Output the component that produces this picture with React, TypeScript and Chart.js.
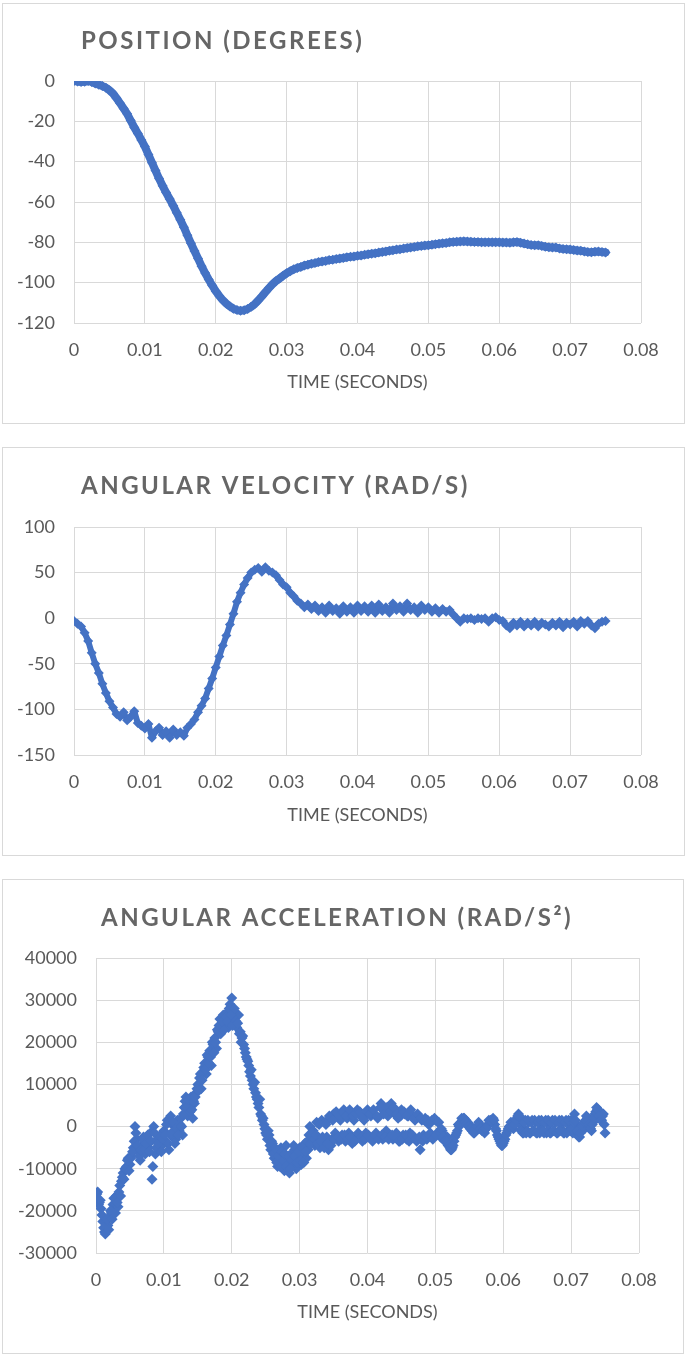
import React, { useEffect, useRef } from 'react';
import { Chart, registerables } from 'chart.js';

Chart.register(...registerables);

// ---------- DATA ----------
// Sampling step of each series (seconds).
const POSITION_STEP = 0.0005;
const POSITION_DEG = [
  0, -0.3, -0.5, -0.4, 0, -0.5, -1.2, -1.8, -2.5, -3.3,
  -4.6, -6.2, -8.5, -11.0, -13.6, -16.3, -19.6, -23.0, -26.0, -29.2,
  -32.5, -36.5, -40.5, -44.4, -48.4, -52.0, -55.3, -58.5, -61.8, -65.3,
  -68.8, -72.5, -76.5, -80.5, -84.3, -88.0, -91.8, -95.2, -98.4, -101.4,
  -104.2, -106.6, -108.7, -110.4, -111.8, -112.9, -113.6, -113.9, -113.7, -113.0,
  -112.0, -110.6, -108.8, -106.8, -104.7, -102.7, -100.8, -99.2, -97.9, -96.6,
  -95.3, -94.3, -93.4, -92.7, -92.2, -91.5, -91.1, -90.6, -90.3, -89.8,
  -89.5, -89.2, -88.8, -88.6, -88.3, -88.0, -87.8, -87.4, -87.2, -87.0,
  -86.7, -86.5, -86.2, -85.9, -85.6, -85.4, -85.1, -84.8, -84.5, -84.2,
  -83.9, -83.6, -83.4, -83.1, -82.8, -82.5, -82.3, -82.0, -81.8, -81.6,
  -81.4, -81.2, -80.9, -80.7, -80.5, -80.3, -80.0, -79.8, -79.7, -79.6,
  -79.5, -79.6, -79.7, -79.8, -79.8, -79.9, -79.9, -79.9, -80.0, -80.0,
  -80.0, -80.1, -80.1, -80.2, -80.0, -79.8, -80.2, -80.6, -81.0, -81.3,
  -81.5, -81.4, -81.8, -82.2, -82.4, -82.6, -82.6, -83.0, -83.3, -83.4,
  -83.6, -83.8, -84.1, -84.2, -84.5, -84.8, -84.9, -84.7, -84.6, -84.8,
  -85.0,
];

const VELOCITY_STEP = 0.0005;
const VELOCITY_RAD_S = [
  -3, -6, -9, -16, -25, -38, -50, -60, -72, -82,
  -91, -98, -105, -108, -103, -112, -108, -102, -115, -118,
  -121, -116, -131, -124, -120, -128, -124, -131, -122, -128,
  -125, -129, -120, -116, -111, -103, -96, -88, -77, -66,
  -54, -42, -30, -19, -7, 5, 18, 28, 37, 44,
  50, 53, 55, 51, 56, 52, 50, 47, 42, 37,
  34, 28, 24, 19, 16, 12, 15, 10, 14, 8,
  12, 6, 14, 8, 11, 5, 13, 7, 12, 6,
  14, 8, 13, 7, 14, 6, 15, 8, 12, 6,
  16, 9, 13, 7, 16, 9, 12, 6, 14, 9,
  12, 7, 11, 6, 10, 7, 9, 4, 0, -4,
  0, -1, 0, -2, 0, -1, 0, -4, 0, 1,
  -2, -3, -8, -11, -5, -8, -4, -9, -5, -8,
  -4, -9, -5, -7, -9, -5, -8, -4, -10, -5,
  -7, -4, -9, -3, -6, -3, -8, -11, -6, -4,
  -3,
];

// Acceleration samples at t = i * ACCEL_STEP
const ACCEL_STEP = 0.00025;
const ACCEL_RAD_S2 = [
  -17000, -15500, -18000, -19500, -22500, -25000, -24000, -23500, -21500, -20500, -18500, -19500, -16500, -19000, -14000, -13000, -11000, -10000, -9500, -7500,
  -9000, -7000, -5000, 0, -3000, -6000, -8000, -4500, -2500, -6500, -3500, -5000, -1500, -12500, 0, -6500, -3000, -5500, -2000, -4500,
  -1000, -3500, 1500, -5500, 2500, -2500, 0, -3000, 1500, -1000, 2000, -2000, 4500, 7000, 2500, 5000, 7000, 2000, 5500, 8000,
  10000, 11500, 9000, 13000, 15000, 12500, 16500, 18000, 14500, 19500, 21000, 18500, 22500, 25500, 23000, 26500, 24000, 27000, 23500, 29000,
  30500, 25000, 27000, 23500, 26500, 22500, 21000, 19500, 17500, 16000, 14500, 12000, 11000, 9000, 8000, 6500, 4500, 3000, 1500, 500,
  -1500, -3000, -2000, -5500, -4000, -7500, -6000, -9500, -8000, -5000, -7000, -10500, -4500, -8500, -11000, -6500, -9000, -5500, -10000, -7500,
  -5000, -9000, -6500, -4000, -7500, -5500, 0, -3000, -1000, -4500, 1000, -2500, -5000, 1500, -3500, 1000, -2500, -5500, 2000, -3000,
  3000, -1500, 2500, -3500, 1500, -2000, 4000, -3500, 2000, -1500, 3500, -4000, 1500, -2500, 4000, -2000, 2500, -3500, 1500, -1500,
  4000, -2500, 2500, -3500, 3000, -1500, 2000, -2500, 5500, -3000, 3500, -1000, 2500, -2500, 5500, -3000, 3000, -1500, 2000, -3500,
  4000, -2000, 3000, -3000, 2500, -1500, 3000, -2500, 1500, -3500, 2500, -5500, 1500, -2000, 2000, -3000, 500, -1500, 1500, -2500,
  1500, -1500, 1000, -2500, -1000, -2000, -3000, -2500, -4000, -5500, -5000, -3500, -2000, -1000, 0, 1000, 1500, 2000, 1500, 1000,
  500, 0, -500, -1500, -1000, 0, 500, 0, -500, -1500, -500, 500, 1000, 1500, 2000, 500, -1000, -2500, -3500, -4500,
  -4000, -3000, -1500, -500, 0, 500, -500, 1000, 2000, 3000, 1500, 0, -1500, 1500, -1000, 1000, -1500, 1500, -1000, 1000,
  -1500, 1500, -500, 1000, -1500, 1500, -1000, 500, -1500, 1500, -1000, 1000, -1500, 1500, -500, 1000, -1500, 1500, -1000, 500,
  1500, -1500, 3000, 500, -1500, -2500, -1000, 500, -500, 2500, 1500, 0, -1000, 1000, 3000, 4500, 4000, 3500, 1500, 3000,
  -1500,
];

// Acceleration samples in between, at t = ACCEL_MID_START + i * ACCEL_STEP
const ACCEL_MID_START = 0.000125;
const ACCEL_MID_RAD_S2 = [
  -16000, -18500, -17500, -21000, -24000, -25500, -22000, -24500, -20000, -22000, -17000, -20500, -18000, -15500, -16500, -12000, -12500, -10000, -8000, -10500,
  -7500, -6000, -3500, -1500, -4500, -7000, -5500, -3000, -5500, -4000, -2000, -6000, -3500, -9500, -1500, -5000, -4000, -2500, -6000, -3000,
  -2000, 500, -4000, 1000, -1500, 1000, -4000, -500, -2000, 500, 0, 3000, 6000, 4500, 6500, 3500, 4000, 6000, 7000, 9000,
  8500, 12500, 11000, 14000, 13500, 17000, 15000, 16500, 20000, 17500, 20000, 23000, 24000, 22000, 25000, 23000, 26000, 25000, 28000, 26500,
  24000, 28000, 25000, 24500, 22000, 20000, 21500, 18500, 16500, 15500, 13000, 13500, 10000, 10500, 7000, 5500, 6500, 2500, 2000, -500,
  -2000, -1000, -4500, -3500, -6500, -5000, -8500, -7000, -9500, -6000, -8000, -6500, -9500, -7000, -10000, -8000, -4500, -7000, -8500, -6000,
  -8000, -5000, -8500, -6000, -3500, -2000, -4000, -1500, -3000, -2000, -4000, 500, -3500, -2500, -5000, 500, -4000, 2500, -4500, 1500,
  -3000, 3500, -2500, 2500, -3000, 3500, -2000, 2500, -3000, 4000, -2500, 2500, -3500, 3000, -1500, 3500, -2500, 2000, -3000, 3500,
  -2000, 3000, -3000, 4000, -2000, 2500, -3000, 4500, -2000, 3000, -2500, 4500, -3000, 3500, -2000, 4500, -2500, 3000, -3500, 2500,
  -3000, 3500, -2000, 2500, -3500, 4000, -2000, 2000, -3000, 3000, -2500, 2000, -3500, 1500, -2500, 1500, -2000, 1000, -3000, 2000,
  -2000, 1000, -1500, -500, -2500, -3500, -3500, -4500, -5000, -5500, -4500, -2500, -1500, 500, 500, 2000, 2000, 1000, 500, 0,
  -500, -1000, -1500, -500, 0, 1000, -500, -1000, -1000, -500, 0, 1500, 1500, 1000, 1500, -500, -2000, -3000, -4000, -4500,
  -3500, -2000, -1000, 0, 1000, 0, 500, 1500, 2500, 2500, -1000, -1500, 1000, -1500, 1500, -1500, 1000, -1000, 1500, -1500,
  1000, -1500, 1500, -1000, 1000, -1500, 1500, -1500, 1000, -1000, 1500, -1500, 1000, -1000, 1500, -1500, 1000, -1500, 1500, -1000,
  -500, 1000, 1500, -1000, -2500, -1500, 0, 1000, 1500, 2000, 500, -500, 500, 2000, 3500, 4000, 2500, 1500, 2500, 500,
];

const X_TICK_LABELS = ['0', '0.01', '0.02', '0.03', '0.04', '0.05', '0.06', '0.07', '0.08'];
const POSITION_TICK_LABELS = ['-120', '-100', '-80', '-60', '-40', '-20', '0'];
const VELOCITY_TICK_LABELS = ['-150', '-100', '-50', '0', '50', '100'];
const ACCEL_TICK_LABELS = ['-30000', '-20000', '-10000', '0', '10000', '20000', '30000', '40000'];

const TITLES = ['POSITION (DEGREES)', 'ANGULAR VELOCITY (RAD/S)', 'ANGULAR ACCELERATION (RAD/S²)'];
const X_AXIS_TITLE = 'TIME (SECONDS)';

// ---------- STYLE ----------
const BLUE = '#4472C4';
const GRID = '#d9d9d9';
const TEXT = '#595959';
const TITLE_COLOR = '#666666';
const FONT = 'Lato';

const toPoints = (values: number[], step: number, start = 0) =>
  values.map((v, i) => ({ x: Number((start + i * step).toFixed(6)), y: v }));

const titlePlugin = {
  id: 'boxTitle',
  afterDraw(chart: any, _args: any, opts: any) {
    const ctx = chart.ctx as CanvasRenderingContext2D;
    ctx.save();
    ctx.font = `bold ${opts.size}px ${FONT}`;
    ctx.fillStyle = TITLE_COLOR;
    (ctx as any).letterSpacing = `${opts.spacing}px`;
    ctx.textAlign = 'left';
    ctx.textBaseline = 'alphabetic';
    ctx.fillText(opts.text, opts.x, opts.y);
    ctx.restore();
  },
};

type Spec = {
  box: { left: number; top: number; width: number; height: number };
  points: { x: number; y: number }[];
  yMin: number;
  yMax: number;
  yStep: number;
  yLabels: string[];
  yWidth: number;
  xHeight: number;
  padding: { left: number; right: number; top: number; bottom: number };
  radius: number;
  line: boolean;
  lineWidth: number;
  title: { text: string; x: number; y: number; spacing: number; size: number };
};

function ChartBox({ spec }: { spec: Spec }) {
  const ref = useRef<HTMLCanvasElement | null>(null);
  const cw = spec.box.width - 2;
  const ch = spec.box.height - 2;
  useEffect(() => {
    if (!ref.current) return;
    const tickFont = { family: FONT, size: 18 };
    const chart = new Chart(ref.current, {
      type: 'scatter',
      data: {
        datasets: [
          {
            data: spec.points,
            backgroundColor: BLUE,
            borderColor: BLUE,
            pointStyle: 'rectRot',
            pointRadius: spec.radius,
            pointBorderWidth: 0,
            showLine: spec.line,
            borderWidth: spec.lineWidth,
            borderJoinStyle: 'round',
            borderCapStyle: 'round',
          } as any,
        ],
      },
      options: {
        responsive: false,
        animation: false,
        devicePixelRatio: 1,
        layout: { padding: spec.padding },
        plugins: {
          legend: { display: false },
          tooltip: { enabled: false },
          title: { display: false },
          boxTitle: spec.title,
        } as any,
        scales: {
          x: {
            type: 'linear',
            min: 0,
            max: 0.08,
            ticks: {
              stepSize: 0.01,
              autoSkip: false,
              maxRotation: 0,
              color: TEXT,
              font: tickFont,
              padding: 16,
              callback: (_v: any, i: number) => X_TICK_LABELS[i],
            },
            grid: { color: GRID, lineWidth: 1, drawTicks: false },
            border: { display: false },
            title: { display: true, text: X_AXIS_TITLE, color: TEXT, font: tickFont, padding: 0 },
            afterFit: (s: any) => {
              s.height = spec.xHeight;
            },
          },
          y: {
            type: 'linear',
            min: spec.yMin,
            max: spec.yMax,
            ticks: {
              stepSize: spec.yStep,
              autoSkip: false,
              color: TEXT,
              font: tickFont,
              padding: 19,
              callback: (_v: any, i: number) => spec.yLabels[i],
            },
            grid: { color: GRID, lineWidth: 1, drawTicks: false },
            border: { display: false },
            afterFit: (s: any) => {
              s.width = spec.yWidth;
            },
          },
        } as any,
      },
      plugins: [titlePlugin],
    });
    return () => chart.destroy();
  }, [spec]);

  return (
    <div
      style={{
        position: 'absolute',
        left: spec.box.left,
        top: spec.box.top,
        width: spec.box.width,
        height: spec.box.height,
        border: `1px solid ${GRID}`,
        boxSizing: 'border-box',
        background: '#fff',
      }}
    >
      <canvas
        ref={ref}
        width={cw}
        height={ch}
        style={{ position: 'absolute', left: 0, top: 0, width: cw, height: ch, display: 'block' }}
      />
    </div>
  );
}

const SPECS: Spec[] = [
  {
    box: { left: 2, top: 3, width: 683, height: 421 },
    points: toPoints(POSITION_DEG, POSITION_STEP),
    yMin: -120,
    yMax: 0,
    yStep: 20,
    yLabels: POSITION_TICK_LABELS,
    yWidth: 71,
    xHeight: 70,
    padding: { left: 0, right: 43, top: 77, bottom: 30 },
    radius: 5,
    line: true,
    lineWidth: 8,
    title: { text: TITLES[0], x: 78, y: 44.5, spacing: 2.5, size: 24 },
  },
  {
    box: { left: 2, top: 447, width: 683, height: 409 },
    points: toPoints(VELOCITY_RAD_S, VELOCITY_STEP),
    yMin: -150,
    yMax: 100,
    yStep: 50,
    yLabels: VELOCITY_TICK_LABELS,
    yWidth: 71,
    xHeight: 71,
    padding: { left: 0, right: 43, top: 79, bottom: 29 },
    radius: 5,
    line: true,
    lineWidth: 6,
    title: { text: TITLES[1], x: 78, y: 45.5, spacing: 2.5, size: 24 },
  },
  {
    box: { left: 2, top: 879, width: 682, height: 475 },
    points: [
      ...toPoints(ACCEL_RAD_S2, ACCEL_STEP),
      ...toPoints(ACCEL_MID_RAD_S2, ACCEL_STEP, ACCEL_MID_START),
    ],
    yMin: -30000,
    yMax: 40000,
    yStep: 10000,
    yLabels: ACCEL_TICK_LABELS,
    yWidth: 93,
    xHeight: 70,
    padding: { left: 0, right: 44, top: 78, bottom: 30 },
    radius: 5.5,
    line: false,
    lineWidth: 0,
    title: { text: TITLES[2], x: 98, y: 46, spacing: 2.5, size: 24 },
  },
];

export default function App() {
  return (
    <div style={{ position: 'absolute', left: 0, top: 0, width: 688, height: 1355, background: '#fff' }}>
      {SPECS.map((s, i) => (
        <ChartBox key={i} spec={s} />
      ))}
    </div>
  );
}
